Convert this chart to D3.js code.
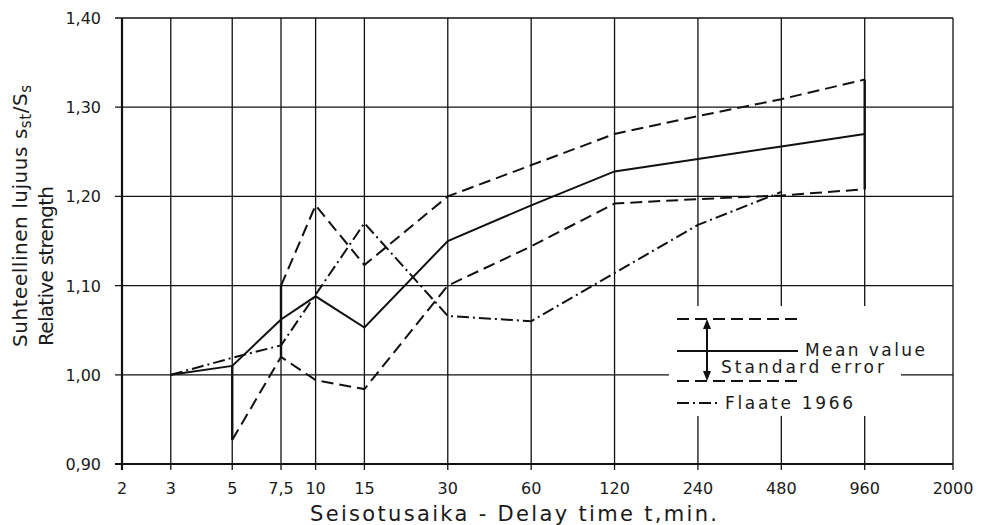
<!DOCTYPE html>
<html>
<head>
<meta charset="utf-8">
<title>Relative strength vs delay time</title>
<script src="https://cdn.jsdelivr.net/npm/d3@7"></script>
<style>
  body { margin: 0; background: #fff; }
  svg text { font-family: "DejaVu Sans", sans-serif; fill: #1a1a1a; }
</style>
</head>
<body>
<svg id="chart" width="985" height="525"></svg>
<script>
// delay time ticks (log scale) and labels
const tickT = [2, 3, 5, 7.5, 10, 15, 30, 60, 120, 240, 480, 960, 2000];
const tickLabels = ["2", "3", "5", "7,5", "10", "15", "30", "60", "120", "240", "480", "960", "2000"];
const yTicks = [0.9, 1.0, 1.1, 1.2, 1.3, 1.4];

// mean value
const meanT = [3, 5, 7.5, 10, 15, 30, 60, 120, 240, 480, 960];
const meanV = [1.00, 1.01, 1.062, 1.088, 1.053, 1.15, 1.19, 1.228, 1.242, 1.256, 1.27];
// standard error, upper and lower
const upperT = [7.5, 10, 15, 30, 60, 120, 240, 480, 960];
const upperV = [1.10, 1.19, 1.123, 1.20, 1.235, 1.27, 1.29, 1.309, 1.331];
const lowerT = [5, 7.5, 10, 15, 30, 60, 120, 240, 480, 960];
const lowerV = [0.927, 1.02, 0.994, 0.984, 1.10, 1.144, 1.192, 1.197, 1.201, 1.208];
// closing verticals of the error band
const barT = [5, 7.5, 960];
const barLo = [0.927, 1.02, 1.208];
const barHi = [1.01, 1.10, 1.331];
// Flaate 1966
const flaateT = [3, 5, 7.5, 15, 30, 60, 120, 240, 480];
const flaateV = [1.00, 1.019, 1.033, 1.17, 1.066, 1.06, 1.114, 1.168, 1.205];

const svg = d3.select("#chart");
const x = d3.scaleLog().base(2).domain([2, 2000]).range([122, 953]);
const y = d3.scaleLinear().domain([0.9, 1.4]).range([464, 18]);
const ink = "#111";

// grid
const grid = svg.append("g").attr("stroke", ink).attr("stroke-width", 1.3);
grid.selectAll("line.v").data(tickT).join("line")
  .attr("x1", d => x(d)).attr("x2", d => x(d))
  .attr("y1", y(1.4)).attr("y2", y(0.9) + 6);
grid.selectAll("line.h").data(yTicks).join("line")
  .attr("x1", x(2) - 7).attr("x2", x(2000))
  .attr("y1", d => y(d)).attr("y2", d => y(d));
// axes heavier
svg.append("line").attr("x1", x(2)).attr("x2", x(2)).attr("y1", y(1.4)).attr("y2", y(0.9) + 6)
  .attr("stroke", ink).attr("stroke-width", 2.2);
svg.append("line").attr("x1", x(2) - 7).attr("x2", x(2000)).attr("y1", y(0.9)).attr("y2", y(0.9))
  .attr("stroke", ink).attr("stroke-width", 2.2);

// tick labels
svg.append("g").selectAll("text").data(tickT).join("text")
  .attr("x", d => x(d)).attr("y", 494).attr("text-anchor", "middle")
  .attr("font-size", 16).text((d, i) => tickLabels[i]);
svg.append("g").selectAll("text").data(yTicks).join("text")
  .attr("x", 101).attr("y", d => y(d) + 6).attr("text-anchor", "end")
  .attr("font-size", 16).text(d => d3.format(".2f")(d).replace(".", ","));

// axis titles
svg.append("text").attr("x", 310).attr("y", 521).attr("font-size", 21)
  .attr("textLength", 407).attr("lengthAdjust", "spacing")
  .text("Seisotusaika - Delay time t,min.");
const yt = svg.append("text").attr("transform", "translate(27,347) rotate(-90)")
  .attr("font-size", 20).attr("textLength", 262).attr("lengthAdjust", "spacing");
yt.append("tspan").text("Suhteellinen lujuus s");
yt.append("tspan").attr("font-size", 15).attr("dy", 4).text("st");
yt.append("tspan").attr("dy", -4).text("/S");
yt.append("tspan").attr("font-size", 15).attr("dy", 4).text("s");
svg.append("text").attr("transform", "translate(53,346) rotate(-90)")
  .attr("font-size", 20).attr("textLength", 160).attr("lengthAdjust", "spacing")
  .text("Relative strength");

// legend area blanks the grid
svg.append("rect").attr("x", 669).attr("y", 306).attr("width", 232).attr("height", 110)
  .attr("fill", "#fff");

// data lines
const line = d3.line().x(d => x(d[0])).y(d => y(d[1]));
const series = [
  { t: meanT, v: meanV, dash: null },
  { t: upperT, v: upperV, dash: "12,6" },
  { t: lowerT, v: lowerV, dash: "12,6" },
  { t: flaateT, v: flaateV, dash: "12,4,2,4" }
];
svg.append("g").selectAll("path").data(series).join("path")
  .attr("d", s => line(s.t.map((t, i) => [t, s.v[i]])))
  .attr("fill", "none").attr("stroke", ink).attr("stroke-width", 2)
  .attr("stroke-dasharray", s => s.dash);
svg.append("g").selectAll("line").data(barT).join("line")
  .attr("x1", d => x(d)).attr("x2", d => x(d))
  .attr("y1", (d, i) => y(barLo[i])).attr("y2", (d, i) => y(barHi[i]))
  .attr("stroke", ink).attr("stroke-width", 2.4);

// legend
const lg = svg.append("g").attr("stroke", ink).attr("stroke-width", 2).attr("fill", "none");
lg.append("line").attr("x1", 677).attr("x2", 798).attr("y1", 319).attr("y2", 319).attr("stroke-dasharray", "12,6");
lg.append("line").attr("x1", 677).attr("x2", 798).attr("y1", 351).attr("y2", 351);
lg.append("line").attr("x1", 677).attr("x2", 798).attr("y1", 381).attr("y2", 381).attr("stroke-dasharray", "12,6");
lg.append("line").attr("x1", 677).attr("x2", 720).attr("y1", 403).attr("y2", 403).attr("stroke-dasharray", "12,4,2,4");
lg.append("line").attr("x1", 707).attr("x2", 707).attr("y1", 322).attr("y2", 378);
svg.append("path").attr("d", "M707,319 L703,329 L711,329 Z M707,381 L703,371 L711,371 Z").attr("fill", ink);
svg.append("text").attr("x", 805).attr("y", 356).attr("font-size", 17)
  .attr("textLength", 120).attr("lengthAdjust", "spacing").text("Mean value");
svg.append("text").attr("x", 721).attr("y", 373).attr("font-size", 17)
  .attr("textLength", 163).attr("lengthAdjust", "spacing").text("Standard error");
svg.append("text").attr("x", 725).attr("y", 409).attr("font-size", 17)
  .attr("textLength", 128).attr("lengthAdjust", "spacing").text("Flaate 1966");
</script>
</body>
</html>
